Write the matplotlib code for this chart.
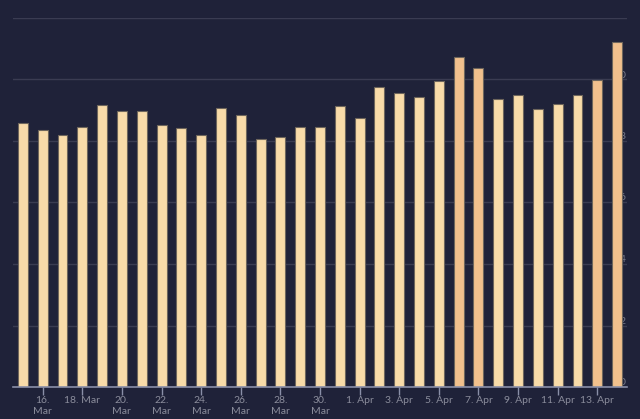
import numpy as np
import matplotlib
matplotlib.use("Agg")
import matplotlib.pyplot as plt

# daily values, 15 Mar - 14 Apr
days = ["15. Mar", "16. Mar", "17. Mar", "18. Mar", "19. Mar", "20. Mar", "21. Mar",
        "22. Mar", "23. Mar", "24. Mar", "25. Mar", "26. Mar", "27. Mar", "28. Mar",
        "29. Mar", "30. Mar", "31. Mar", "1. Apr", "2. Apr", "3. Apr", "4. Apr",
        "5. Apr", "6. Apr", "7. Apr", "8. Apr", "9. Apr", "10. Apr", "11. Apr",
        "12. Apr", "13. Apr", "14. Apr"]
values = [8.58, 8.35, 8.20, 8.44, 9.17, 8.96, 8.96, 8.52, 8.41, 8.20, 9.08,
          8.85, 8.05, 8.12, 8.47, 8.44, 9.14, 8.74, 9.76, 9.55, 9.44, 9.94,
          10.73, 10.37, 9.36, 9.50, 9.03, 9.20, 9.50, 9.97, 11.21]
highlight = [22, 23, 29, 30]  # orange bars

tick_idx = list(range(1, 31, 2))
tick_labels = ["16.\nMar", "18. Mar", "20.\nMar", "22.\nMar", "24.\nMar", "26.\nMar",
               "28.\nMar", "30.\nMar", "1. Apr", "3. Apr", "5. Apr", "7. Apr",
               "9. Apr", "11. Apr", "13. Apr"]
y_ticks = [0, 2, 4, 6, 8, 10, 12]
y_labels = ["0", "2", "4", "6", "8", "10", ""]

bg = "#1f2239"
light = "#f8dba9"
orange = "#f1c08d"

plt.rcParams["font.family"] = ["Lato", "DejaVu Sans"]

fig = plt.figure(figsize=(6.4, 4.19), dpi=100, facecolor=bg)
ax = fig.add_axes([13 / 640, 1 - 387 / 419, 614 / 640, 369 / 419], facecolor=bg)

x = np.arange(len(values))
colors = [orange if i in highlight else light for i in range(len(values))]
ax.bar(x, values, width=0.5, color=colors, edgecolor="#6e665c", linewidth=0.8, zorder=3)

ax.set_xlim(-0.5, 30.5)
ax.set_ylim(0, 12)

for s in ["top", "left", "right"]:
    ax.spines[s].set_visible(False)
ax.spines["bottom"].set_color("#8a8fa8")
ax.spines["bottom"].set_linewidth(1.2)
ax.spines["bottom"].set_zorder(4)

ax.set_xticks(tick_idx)
ax.set_xticklabels(tick_labels, linespacing=1.25)
ax.tick_params(axis="x", colors="#8a8fa8", length=6, width=1, labelsize=7.5,
               labelcolor="#8b8d9c", pad=0.5)

ax.yaxis.tick_right()
ax.set_yticks(y_ticks)
ax.set_yticklabels(y_labels)
ax.tick_params(axis="y", length=0, pad=-1, labelsize=7.5, labelcolor="#7b7d8c")
for lbl in ax.get_yticklabels():
    lbl.set_horizontalalignment("right")
    lbl.set_verticalalignment("bottom")

ax.grid(axis="y", color="#3a3c52", linewidth=1, zorder=0)
ax.grid(axis="x", visible=False)

fig.savefig("out.png", dpi=100, facecolor=bg)
